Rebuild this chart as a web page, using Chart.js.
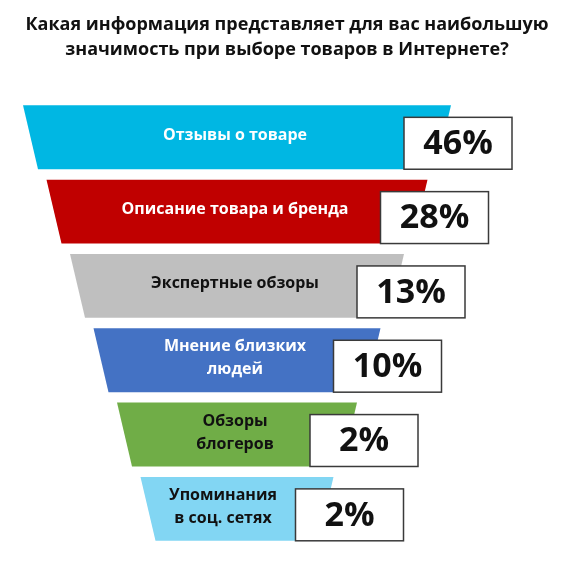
<!DOCTYPE html>
<html>
<head>
<meta charset="utf-8">
<script src="https://cdn.jsdelivr.net/npm/chart.js@4.4.1/dist/chart.umd.min.js"></script>
<style>
    html, body { margin: 0; padding: 0; background: #fff; }
    #wrap { width: 574px; height: 562px; position: relative; }
</style>
</head>
<body>
<div id="wrap"><canvas id="funnel"></canvas></div>
<script>
// Данные воронки
const categories = [
    ['Отзывы о товаре'],
    ['Описание товара и бренда'],
    ['Экспертные обзоры'],
    ['Мнение близких', 'людей'],
    ['Обзоры', 'блогеров'],
    ['Упоминания', 'в соц. сетях']
];
const shares = [46, 28, 13, 10, 2, 2];
const bandColors = ['#00b7e3', '#c00000', '#bfbfbf', '#4472c4', '#70ad47', '#82d6f3'];
const labelColors = ['#ffffff', '#ffffff', '#111111', '#ffffff', '#111111', '#111111'];
const titleLines = [
    'Какая информация представляет для вас наибольшую',
    'значимость при выборе товаров в Интернете?'
];

// ступени воронки: ширина уменьшается с каждым уровнем
const funnelCenter = 237;
const funnelData = categories.map((c, i) => {
    const half = 214 - 23.5 * i;
    return [funnelCenter - half, funnelCenter + half];
});

const funnelPlugin = {
    id: 'funnelPlugin',
    afterDatasetsDraw(chart) {
        const ctx = chart.ctx;
        const meta = chart.getDatasetMeta(0);
        const slant = 15;
        meta.data.forEach((bar, i) => {
            const left = bar.base;
            const right = bar.x;
            const top = bar.y - bar.height / 2;
            const bottom = bar.y + bar.height / 2;

            // трапеция
            ctx.save();
            ctx.fillStyle = bandColors[i];
            ctx.beginPath();
            ctx.moveTo(left, top);
            ctx.lineTo(right, top);
            ctx.lineTo(right - slant, bottom);
            ctx.lineTo(left + slant, bottom);
            ctx.closePath();
            ctx.fill();

            // подпись категории
            const lines = categories[i];
            ctx.fillStyle = labelColors[i];
            ctx.font = 'bold 16px "Open Sans"';
            ctx.textAlign = 'center';
            ctx.textBaseline = 'middle';
            const lh = 23;
            const y0 = bar.y - 2 - (lines.length - 1) * lh / 2;
            const tx = i === 5 ? funnelCenter - 14 : funnelCenter - 2;
            lines.forEach((l, k) => ctx.fillText(l, tx, y0 + k * lh));

            // рамка с процентом
            const bx = right - (i === 5 ? 38 : 47);
            const bw = 108;
            const by = top + 12;
            const bh = bottom - by;
            ctx.fillStyle = '#ffffff';
            ctx.fillRect(bx, by, bw, bh);
            ctx.strokeStyle = '#3a3a3a';
            ctx.lineWidth = 1.5;
            ctx.strokeRect(bx, by, bw, bh);
            ctx.fillStyle = '#111111';
            ctx.font = 'bold 34px "Open Sans"';
            ctx.fillText(shares[i] + '%', bx + bw / 2, by + bh / 2 + 1);
            ctx.restore();
        });
    }
};

new Chart(document.getElementById('funnel'), {
    type: 'bar',
    data: {
        labels: categories.map(c => c.join(' ')),
        datasets: [{
            data: funnelData,
            backgroundColor: 'rgba(0,0,0,0)',
            borderWidth: 0,
            barPercentage: 0.86,
            categoryPercentage: 1
        }]
    },
    options: {
        indexAxis: 'y',
        responsive: true,
        maintainAspectRatio: false,
        animation: false,
        layout: { padding: { left: 0, right: 0, top: 0, bottom: 16 } },
        scales: {
            x: { display: false, min: 0, max: 574 },
            y: { display: false }
        },
        plugins: {
            legend: { display: false },
            tooltip: { enabled: false },
            title: {
                display: true,
                text: titleLines,
                color: '#111111',
                font: { family: '"Open Sans"', size: 18, weight: 'bold', lineHeight: 1.42 },
                padding: { top: 12, bottom: 37 }
            }
        }
    },
    plugins: [funnelPlugin]
});
</script>
</body>
</html>
